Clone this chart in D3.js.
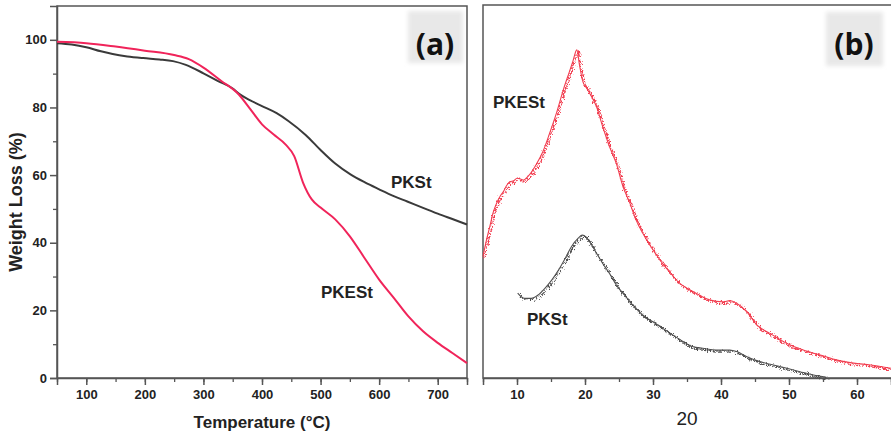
<!DOCTYPE html>
<html>
<head>
<meta charset="utf-8">
<script src="https://cdn.jsdelivr.net/npm/d3@7"></script>
<style>
  body { margin: 0; background: #fff; }
  svg { display: block; font-family: "Liberation Sans", Arial, sans-serif; }
</style>
</head>
<body>
<svg id="chart" width="891" height="433"></svg>
<script>
// TGA (a): temperature (C) vs weight (%)
const tgaTempPKSt = [50, 75, 100, 125, 145, 170, 197, 225, 248, 270, 300, 325, 350, 361, 380, 400, 425, 445, 475, 500, 525, 551, 575, 600, 625, 648, 675, 700, 725, 750];
const tgaPKSt     = [99.0, 98.6, 97.8, 96.6, 95.8, 95.1, 94.6, 94.2, 93.7, 92.6, 90.1, 87.8, 85.6, 84.0, 82.1, 80.4, 78.3, 76.0, 71.8, 67.4, 63.4, 60.2, 57.9, 55.8, 53.8, 52.2, 50.3, 48.6, 47.0, 45.4];

const tgaTempPKESt = [50, 100, 150, 200, 250, 275, 300, 330, 360, 380, 400, 420, 440, 455, 470, 485, 500, 525, 550, 575, 600, 625, 650, 675, 700, 725, 750];
const tgaPKESt     = [99.4, 99.0, 98.0, 96.8, 95.5, 94.3, 91.8, 87.9, 83.9, 79.5, 75.0, 72.0, 69.1, 65.6, 57.8, 52.8, 50.4, 46.9, 41.9, 35.5, 29.1, 23.7, 18.2, 13.8, 10.4, 7.4, 4.4];

// XRD (b): 2-theta vs intensity (arbitrary units)
const xrdThetaPKESt = [5, 5.5, 6, 6.5, 7, 7.5, 8, 8.5, 9, 9.5, 10, 10.5, 11, 11.5, 12, 12.8, 13.8, 14.8, 15.8, 16.8, 17.7, 18.2, 18.8, 19.2, 19.7, 20.2, 20.7, 21.7, 22.6, 23.6, 24.6, 25.6, 26.6, 27.5, 28.5, 29.5, 30.5, 31.4, 32.4, 33.9, 35.4, 36.8, 38.3, 40.3, 41.3, 42.3, 43.8, 45.3, 47.2, 49.7, 52.1, 54.6, 57.1, 59.5, 62, 65];
const xrdPKESt      = [32.6, 37.0, 40.7, 44.5, 47.0, 48.8, 50.1, 51.8, 52.8, 53.0, 53.7, 53.5, 53.2, 54.0, 55.0, 57.3, 60.8, 65.8, 71.2, 77.4, 82.3, 85.0, 88.2, 84.0, 79.6, 78.0, 76.5, 72.9, 67.6, 62.2, 57.7, 51.4, 47.0, 42.5, 38.9, 35.8, 33.1, 30.8, 28.6, 25.5, 23.7, 22.3, 21.0, 20.5, 20.8, 20.1, 17.8, 14.2, 12.0, 9.3, 7.5, 6.2, 4.8, 4.0, 3.5, 2.6];

const xrdThetaPKSt = [10.1, 11.1, 12.1, 13.1, 14.1, 15.1, 16.1, 17.1, 18.0, 19.0, 19.6, 20.2, 20.7, 21.7, 22.6, 23.6, 24.6, 25.6, 26.6, 27.5, 28.5, 30.0, 31.4, 32.9, 34.4, 35.9, 37.3, 39.3, 41.3, 42.3, 43.8, 45.7, 47.7, 49.7, 51.6, 53.6, 55.5];
const xrdPKSt      = [22.8, 21.4, 21.4, 22.3, 24.1, 26.3, 29.0, 32.2, 35.3, 37.6, 38.4, 37.8, 36.6, 33.5, 30.8, 28.1, 25.0, 22.8, 20.5, 18.7, 16.9, 15.1, 13.4, 11.6, 9.8, 8.4, 8.0, 7.5, 7.5, 7.1, 5.7, 4.4, 3.5, 2.6, 1.7, 0.8, 0.2];

const tempTicks  = [100, 200, 300, 400, 500, 600, 700];
const weightTicks = [0, 20, 40, 60, 80, 100];
const thetaTicks = [10, 20, 30, 40, 50, 60];

const svg = d3.select("#chart");
const axisColor = "#555";
const red = "#f0245a";

const defs = svg.append("defs");
const noise = defs.append("filter").attr("id", "noisy")
  .attr("x", "-5%").attr("y", "-10%").attr("width", "110%").attr("height", "120%");
noise.append("feTurbulence").attr("type", "turbulence")
  .attr("baseFrequency", "1.2 0.4").attr("numOctaves", 2).attr("seed", 3).attr("result", "t");
noise.append("feDisplacementMap").attr("in", "SourceGraphic").attr("in2", "t")
  .attr("scale", 6).attr("xChannelSelector", "R").attr("yChannelSelector", "G");

const soft = defs.append("filter").attr("id", "soft");
soft.append("feGaussianBlur").attr("stdDeviation", 2);

// ---------- panel (a) ----------
const a = { left: 57, right: 467, top: 6, bottom: 378 };
const xa = d3.scaleLinear().domain([50, 750]).range([a.left, a.right]);
const ya = d3.scaleLinear().domain([0, 110]).range([a.bottom, a.top]);

svg.append("rect")
  .attr("x", 408).attr("y", 11).attr("width", 55).attr("height", 52)
  .attr("fill", "#e8e8e8").attr("filter", "url(#soft)");

svg.append("rect")
  .attr("x", a.left).attr("y", a.top)
  .attr("width", a.right - a.left).attr("height", a.bottom - a.top)
  .attr("fill", "none").attr("stroke", axisColor).attr("stroke-width", 1.5);

// minor ticks
svg.append("g")
  .attr("transform", `translate(0,${a.bottom})`)
  .call(d3.axisBottom(xa).tickValues(d3.range(50, 751, 50)).tickSize(4).tickFormat(""))
  .call(g => g.select(".domain").remove())
  .call(g => g.selectAll(".tick line").attr("stroke", axisColor).attr("stroke-width", 1.3));
svg.append("g")
  .attr("transform", `translate(${a.left},0)`)
  .call(d3.axisLeft(ya).tickValues(d3.range(10, 101, 20)).tickSize(4).tickFormat(""))
  .call(g => g.select(".domain").remove())
  .call(g => g.selectAll(".tick line").attr("stroke", axisColor).attr("stroke-width", 1.3));

svg.append("g")
  .attr("transform", `translate(0,${a.bottom})`)
  .call(d3.axisBottom(xa).tickValues(tempTicks).tickSize(7).tickPadding(5))
  .call(g => g.select(".domain").attr("stroke", axisColor).attr("stroke-width", 1.5))
  .call(g => g.selectAll(".tick line").attr("stroke", axisColor).attr("stroke-width", 1.5))
  .call(g => g.selectAll("text").attr("font-size", 13).attr("font-weight", "bold")
    .attr("fill", "#222").attr("font-family", "Liberation Sans, Arial, sans-serif"));

svg.append("g")
  .attr("transform", `translate(${a.left},0)`)
  .call(d3.axisLeft(ya).tickValues(weightTicks).tickSize(7).tickPadding(3))
  .call(g => g.select(".domain").attr("stroke", axisColor).attr("stroke-width", 1.5))
  .call(g => g.selectAll(".tick line").attr("stroke", axisColor).attr("stroke-width", 1.5))
  .call(g => g.selectAll("text").attr("font-size", 13).attr("font-weight", "bold")
    .attr("fill", "#222").attr("font-family", "Liberation Sans, Arial, sans-serif"));

const lineA = d3.line().x(d => xa(d[0])).y(d => ya(d[1])).curve(d3.curveMonotoneX);

svg.append("path")
  .datum(d3.zip(tgaTempPKSt, tgaPKSt))
  .attr("fill", "none").attr("stroke", "#3a3a3a").attr("stroke-width", 2)
  .attr("d", lineA);
svg.append("path")
  .datum(d3.zip(tgaTempPKESt, tgaPKESt))
  .attr("fill", "none").attr("stroke", red).attr("stroke-width", 2)
  .attr("d", lineA);

svg.append("text").attr("x", 391).attr("y", 188)
  .attr("font-size", 17).attr("font-weight", "bold").attr("fill", "#222").text("PKSt");
svg.append("text").attr("x", 321).attr("y", 298)
  .attr("font-size", 17).attr("font-weight", "bold").attr("fill", "#222").text("PKESt");

svg.append("text").attr("x", 435).attr("y", 55).attr("text-anchor", "middle")
  .attr("font-family", "Open Sans, sans-serif").attr("font-size", 30).attr("font-weight", "bold")
  .attr("fill", "#111").text("(a)");

svg.append("text").attr("x", (a.left + a.right) / 2).attr("y", 428).attr("text-anchor", "middle")
  .attr("font-size", 17).attr("font-weight", "bold").attr("fill", "#222").text("Temperature (\u00B0C)");

svg.append("text")
  .attr("transform", `translate(22,202) rotate(-90)`)
  .attr("text-anchor", "middle")
  .attr("font-size", 18).attr("font-weight", "bold").attr("fill", "#222").text("Weight Loss (%)");

// ---------- panel (b) ----------
const b = { left: 483, right: 891, top: 5, bottom: 378 };
const xb = d3.scaleLinear().domain([5, 65]).range([b.left, b.right]);
const yb = d3.scaleLinear().domain([0, 100]).range([b.bottom, b.top + 1]);

svg.append("rect")
  .attr("x", 826).attr("y", 12).attr("width", 57).attr("height", 54)
  .attr("fill", "#e8e8e8").attr("filter", "url(#soft)");

svg.append("rect")
  .attr("x", b.left).attr("y", b.top)
  .attr("width", b.right - b.left + 5).attr("height", b.bottom - b.top)
  .attr("fill", "none").attr("stroke", axisColor).attr("stroke-width", 1.5);

svg.append("g")
  .attr("transform", `translate(0,${b.bottom})`)
  .call(d3.axisBottom(xb).tickValues(d3.range(5, 66, 5)).tickSize(4).tickFormat(""))
  .call(g => g.select(".domain").remove())
  .call(g => g.selectAll(".tick line").attr("stroke", axisColor).attr("stroke-width", 1.3));

svg.append("g")
  .attr("transform", `translate(0,${b.bottom})`)
  .call(d3.axisBottom(xb).tickValues(thetaTicks).tickSize(7).tickPadding(5))
  .call(g => g.select(".domain").attr("stroke", axisColor).attr("stroke-width", 1.5))
  .call(g => g.selectAll(".tick line").attr("stroke", axisColor).attr("stroke-width", 1.5))
  .call(g => g.selectAll("text").attr("font-size", 13).attr("font-weight", "bold")
    .attr("fill", "#222").attr("font-family", "Liberation Sans, Arial, sans-serif"));

const lineB = d3.line().x(d => xb(d[0])).y(d => yb(d[1])).curve(d3.curveMonotoneX);

const xrdSeries = [
  { pts: d3.zip(xrdThetaPKSt, xrdPKSt), color: "#505050" },
  { pts: d3.zip(xrdThetaPKESt, xrdPKESt), color: "#f23e50" }
];
xrdSeries.forEach(s => {
  // solid core plus a jagged overlay for the noisy diffraction trace
  svg.append("path")
    .datum(s.pts)
    .attr("fill", "none").attr("stroke", s.color).attr("stroke-width", 1.1)
    .attr("d", lineB);
  svg.append("path")
    .datum(s.pts)
    .attr("fill", "none").attr("stroke", s.color).attr("stroke-width", 1.4)
    .attr("filter", "url(#noisy)")
    .attr("d", lineB);
});

svg.append("text").attr("x", 493).attr("y", 108)
  .attr("font-size", 17).attr("font-weight", "bold").attr("fill", "#222").text("PKESt");
svg.append("text").attr("x", 527).attr("y", 325)
  .attr("font-size", 17).attr("font-weight", "bold").attr("fill", "#222").text("PKSt");

svg.append("text").attr("x", 854).attr("y", 55).attr("text-anchor", "middle")
  .attr("font-family", "Open Sans, sans-serif").attr("font-size", 30).attr("font-weight", "bold")
  .attr("fill", "#111").text("(b)");

svg.append("text").attr("x", 687).attr("y", 425).attr("text-anchor", "middle")
  .attr("font-size", 19).attr("fill", "#222").text("20");
</script>
</body>
</html>
